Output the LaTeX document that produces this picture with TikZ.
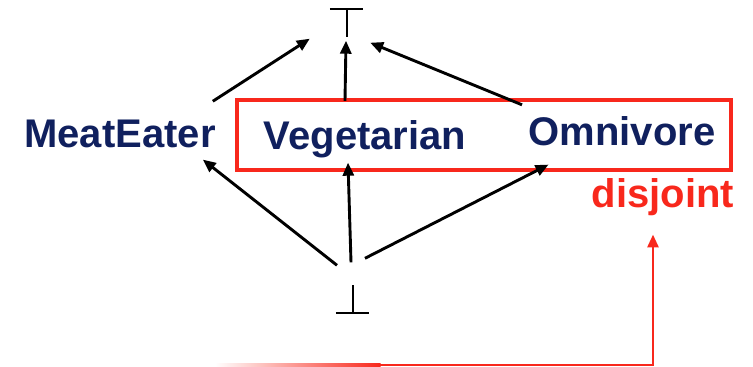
\documentclass[tikz,border=0pt]{standalone}
\usepackage{fontspec}
\setmainfont{Liberation Sans}
\usepackage{xcolor}
\usetikzlibrary{arrows.meta,positioning,fit}
\definecolor{clsblue}{HTML}{10205E}
\definecolor{markred}{HTML}{F8281C}
\tikzset{
  cls/.style   = {inner sep=0pt, anchor=base, text=clsblue,
                  font=\fontsize{40}{44}\selectfont\bfseries},
  sym/.style   = {inner sep=0pt, minimum width=33pt, minimum height=27pt},
  ar/.style    = {-{Triangle[length=13pt,width=11pt]}, line width=2.9pt},
  redar/.style = {-{Triangle[length=13pt,width=11pt]}, line width=2.9pt, draw=markred},
  grpbox/.style= {draw=markred, line width=3.3pt, inner sep=0pt},
  lbl/.style   = {inner sep=0pt, anchor=base, text=markred,
                  font=\fontsize{40}{44}\selectfont\bfseries},
}
\begin{document}
\begin{tikzpicture}[x=1pt,y=1pt]
  \useasboundingbox (0,0) rectangle (753,367);
  % lattice top and bottom
  \node[sym] (top) at (346.5,344) {};
  \draw[line width=2pt] (top.north west) -- (top.north east) (top.north) -- (top.south);
  \node[sym] (bot) at (352.5,68) {};
  \draw[line width=2pt] (bot.south west) -- (bot.south east) (bot.south) -- (bot.north);
  % classes
  \node[cls] (meat) at (120,219) {MeatEater};
  \node[cls] (veg) at (365,217) {Vegetarian};
  \node[cls] (omni) at (622,221) {Omnivore};
  \node[lbl] (disj) at (663,159) {disjoint};
  \node[grpbox, fit={(237,197) (731,267)}] (grp) {};
  % subsumption
  \draw[ar] ([xshift=-3pt,yshift=19pt]meat.north east) -- ([xshift=-20pt,yshift=-2pt]top.south west);
  \draw[ar] ([xshift=-20pt,yshift=20pt]veg.north) -- ([xshift=-0.5pt,yshift=-4pt]top.south);
  \draw[ar] ([xshift=-100pt,yshift=12pt]omni.north) -- ([xshift=7pt,yshift=-6pt]top.south east);
  \draw[ar] ([xshift=-15.5pt,yshift=20pt]bot.north) -- ([xshift=-13pt,yshift=-11pt]meat.south east);
  \draw[ar] ([xshift=-1.5pt,yshift=23pt]bot.north) -- ([xshift=-17pt,yshift=-4pt]veg.south);
  \draw[ar] ([xshift=12.5pt,yshift=27pt]bot.north) -- ([xshift=-167pt,yshift=-18pt]omni.south east);
  % disjointness marker
  \coordinate (src) at (380,2);
  \shade[left color=white, right color=markred] (215,0.55) rectangle (380.5,3.45);
  \draw[redar] (src) -| ([xshift=-10pt,yshift=-18pt]disj.south);
\end{tikzpicture}
\end{document}
